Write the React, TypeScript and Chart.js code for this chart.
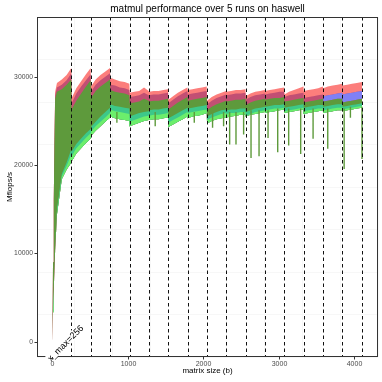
import React, { useEffect, useRef } from 'react';
import { Chart, registerables } from 'chart.js';

Chart.register(...registerables);

const chartTitle = 'matmul performance over 5 runs on haswell';
const xTitle = 'matrix size (b)';
const yTitle = 'Mflops/s';

const xTickValues = [0, 1000, 2000, 3000, 4000];
const xTickLabels = ['0', '1000', '2000', '3000', '4000'];
const yTickValues = [0, 10000, 20000, 30000];
const yTickLabels = ['0', '10000', '20000', '30000'];

// sample positions (matrix size)
const xs = [
  2, 12, 22, 30, 40, 64, 128, 192, 254,
  258, 320, 384, 448, 510,
  514, 576, 640, 704, 766,
  770, 832, 896, 960, 1022,
  1026, 1088, 1152, 1216, 1278,
  1282, 1344, 1408, 1472, 1534,
  1538, 1600, 1664, 1728, 1790,
  1794, 1856, 1920, 1984, 2046,
  2050, 2112, 2176, 2240, 2302,
  2306, 2368, 2432, 2496, 2558,
  2562, 2624, 2688, 2752, 2814,
  2818, 2880, 2944, 3008, 3070,
  3074, 3136, 3200, 3264, 3326,
  3330, 3392, 3456, 3520, 3582,
  3586, 3648, 3712, 3776, 3838,
  3842, 3904, 3968, 4032, 4100,
];

// upper edge of all runs (red run maximum)
const redTop = [
  300, 9000, 16000, 22000, 28300, 29300, 29700, 30200, 31000,
  27600, 28700, 29500, 30300, 31000,
  28900, 29700, 30200, 30600, 31000,
  29900, 29700, 29500, 29400, 29200,
  28200, 28300, 28400, 28800, 28400,
  28300, 28400, 28400, 28500, 28600,
  27400, 27800, 28200, 28500, 28800,
  28500, 28600, 28700, 28800, 28900,
  27300, 27700, 28000, 28200, 28400,
  28300, 28400, 28500, 28500, 28600,
  27800, 28100, 28300, 28400, 28500,
  28400, 28500, 28600, 28700, 28800,
  28000, 28300, 28500, 28700, 28900,
  28400, 28500, 28600, 28700, 28900,
  28700, 28900, 29000, 29100, 29200,
  29000, 29100, 29200, 29300, 29400,
];
// red / blue overlap upper edge
const midTop = [
  300, 9000, 16000, 22000, 27900, 28800, 29100, 29600, 30400,
  27000, 28100, 28900, 29600, 30300,
  28300, 29100, 29600, 30000, 30400,
  29100, 29000, 28800, 28700, 28500,
  27700, 27800, 27900, 28200, 27900,
  27900, 28000, 28000, 28100, 28200,
  27000, 27400, 27800, 28100, 28400,
  28000, 28100, 28200, 28300, 28400,
  26900, 27300, 27600, 27800, 28000,
  27900, 28000, 28100, 28100, 28200,
  27400, 27700, 27900, 28000, 28100,
  28000, 28100, 28200, 28300, 28300,
  27700, 27900, 28000, 28100, 28200,
  27600, 27700, 27800, 27900, 28000,
  27800, 27900, 28000, 28100, 28200,
  28000, 28100, 28200, 28300, 28400,
];
// green run maximum
const greenTop = [
  300, 9000, 16000, 22000, 27500, 28300, 28600, 29100, 29700,
  26300, 27300, 28100, 28900, 29600,
  27600, 28400, 28900, 29300, 29700,
  28500, 28300, 28200, 28100, 27900,
  27000, 27100, 27200, 27500, 27300,
  27200, 27300, 27300, 27400, 27500,
  26300, 26700, 27100, 27400, 27700,
  27300, 27400, 27500, 27600, 27700,
  26200, 26600, 26900, 27100, 27300,
  27200, 27300, 27400, 27400, 27500,
  26800, 27100, 27300, 27400, 27500,
  27400, 27500, 27600, 27600, 27700,
  27200, 27300, 27400, 27500, 27600,
  27100, 27200, 27300, 27400, 27500,
  27200, 27300, 27400, 27500, 27500,
  27100, 27200, 27300, 27400, 27500,
];
// red run minimum
const redBottom = [
  0, 3400, 6200, 8200, 10600, 15000, 19000, 20300, 21800,
  21500, 22400, 23000, 23600, 24100,
  24300, 24900, 25500, 26000, 26500,
  26900, 26700, 26600, 26500, 26400,
  25500, 25700, 25900, 26000, 26100,
  26200, 26300, 26300, 26400, 26500,
  25300, 25600, 25900, 26200, 26500,
  26400, 26500, 26600, 26700, 26800,
  25500, 25800, 26000, 26200, 26300,
  26200, 26300, 26300, 26400, 26400,
  26000, 26200, 26400, 26500, 26600,
  26600, 26700, 26800, 26800, 26900,
  26500, 26600, 26700, 26800, 26900,
  26500, 26600, 26700, 26800, 26800,
  26600, 26700, 26800, 26900, 26900,
  26600, 26700, 26800, 26900, 27000,
];
// blue run minimum
const blueBottom = [
  0, 3300, 6100, 8100, 10500, 14700, 18700, 19900, 21200,
  21000, 21900, 22500, 23100, 23600,
  23800, 24400, 24900, 25400, 25900,
  26300, 26100, 26000, 25900, 25800,
  24900, 25100, 25300, 25500, 25600,
  25600, 25700, 25700, 25800, 25900,
  24800, 25100, 25400, 25700, 26000,
  25900, 26000, 26100, 26200, 26300,
  25100, 25400, 25600, 25800, 25900,
  25800, 25900, 25900, 26000, 26000,
  25600, 25800, 26000, 26100, 26200,
  26200, 26300, 26400, 26400, 26500,
  26100, 26200, 26300, 26400, 26500,
  26100, 26200, 26300, 26400, 26400,
  26200, 26300, 26400, 26500, 26500,
  26300, 26400, 26500, 26600, 26700,
];
// lower edge of all runs (green run minimum)
const greenBottom = [
  0, 3200, 6000, 8000, 10400, 14400, 18400, 19500, 20300,
  20400, 21300, 21900, 22500, 23000,
  23300, 23900, 24400, 24900, 25400,
  25500, 25300, 25200, 25100, 25000,
  24400, 24600, 24800, 25000, 25100,
  25100, 25200, 25200, 25300, 25400,
  24300, 24600, 24900, 25200, 25500,
  25300, 25500, 25600, 25700, 25900,
  24700, 25000, 25200, 25300, 25400,
  25400, 25500, 25600, 25700, 25700,
  25500, 25700, 25800, 25900, 26000,
  25900, 26000, 26100, 26200, 26300,
  25900, 26000, 26100, 26200, 26300,
  25800, 25900, 26000, 26100, 26200,
  25900, 26000, 26100, 26200, 26200,
  26100, 26200, 26300, 26400, 26500,
];
// sizes from which the blue run is visible above the green run
const blueVisibleFrom = 3584;

// isolated performance drops
const dropX = [857, 1364, 1881, 2123, 2269, 2349, 2433, 2534, 2632, 2738, 2857, 2985, 3130, 3289, 3453, 3647, 3864, 3947, 4100];
const dropFrom = [26000, 26000, 26000, 26000, 26000, 26000, 26000, 26000, 26200, 26200, 26200, 26400, 26400, 26400, 26400, 26400, 26400, 26600, 26600];
const dropLow = [24790, 24400, 24790, 24220, 24400, 22330, 22330, 23460, 20810, 21000, 23080, 21450, 22210, 21270, 22970, 21840, 19570, 25360, 20700];

const breakpoints = [256, 512, 768, 1024, 1280, 1536, 1792, 2048, 2304, 2560, 2816, 3072, 3328, 3584, 3840, 4096];
const annotationLabel = 'x_max=256';
const annotationX = 175;
const annotationY = -150;

const xMin = -200;
const xMax = 4312;
const yMin = -1730;
const yMax = 36770;

const COLORS = {
  lightRed: '#FC7E7C',
  magenta: '#C24F73',
  olive: '#5E9A3C',
  teal: '#3DC88A',
  lightGreen: '#6CEE6C',
  blue: '#8080F5',
};

const FONT = '"Liberation Sans", Arial, Helvetica, sans-serif';

function toPoints(xv: number[], yv: number[]) {
  return xv.map((x, i) => ({ x, y: yv[i] }));
}

const decorPlugin = {
  id: 'panelDecor',
  afterDatasetsDraw(chart: any) {
    const { ctx, chartArea, scales } = chart;
    const sx = scales.x;
    ctx.save();
    ctx.beginPath();
    ctx.rect(chartArea.left, chartArea.top, chartArea.right - chartArea.left, chartArea.bottom - chartArea.top);
    ctx.clip();
    ctx.strokeStyle = '#111111';
    ctx.lineWidth = 1;
    ctx.setLineDash([3.5, 3]);
    for (const b of breakpoints) {
      const px = Math.round(sx.getPixelForValue(b)) + 0.5;
      ctx.beginPath();
      ctx.moveTo(px, chartArea.top);
      ctx.lineTo(px, chartArea.bottom);
      ctx.stroke();
    }
    ctx.restore();
  },
  afterDraw(chart: any) {
    const { ctx, chartArea, scales } = chart;
    const sx = scales.x;
    const sy = scales.y;

    // panel border
    ctx.save();
    ctx.strokeStyle = '#333333';
    ctx.lineWidth = 1;
    ctx.setLineDash([]);
    ctx.strokeRect(chartArea.left + 0.5, chartArea.top + 0.5, chartArea.right - chartArea.left - 1, chartArea.bottom - chartArea.top - 1);
    ctx.restore();

    // annotation
    ctx.save();
    const ax = sx.getPixelForValue(annotationX);
    const ay = sy.getPixelForValue(annotationY);
    ctx.translate(ax, ay);
    ctx.rotate(-Math.PI / 4);
    ctx.font = `9px ${FONT}`;
    const w = ctx.measureText(annotationLabel).width;
    ctx.fillStyle = '#FFFFFF';
    ctx.fillRect(-w / 2 - 1, -4.5, w + 2, 9);
    ctx.fillStyle = '#000000';
    ctx.textAlign = 'center';
    ctx.textBaseline = 'middle';
    ctx.fillText(annotationLabel, 0, 0.5);
    ctx.restore();

    // title
    ctx.save();
    ctx.fillStyle = '#000000';
    ctx.font = `10px ${FONT}`;
    ctx.textAlign = 'center';
    ctx.textBaseline = 'middle';
    ctx.fillText(chartTitle, (chartArea.left + chartArea.right) / 2, 9.5);
    ctx.restore();

    // tick marks and labels
    ctx.save();
    ctx.strokeStyle = '#333333';
    ctx.lineWidth = 1;
    ctx.fillStyle = '#4D4D4D';
    ctx.font = `6.8px ${FONT}`;
    ctx.textAlign = 'right';
    ctx.textBaseline = 'middle';
    yTickValues.forEach((v, i) => {
      const py = Math.round(sy.getPixelForValue(v)) + 0.5;
      ctx.beginPath();
      ctx.moveTo(chartArea.left - 2.5, py);
      ctx.lineTo(chartArea.left, py);
      ctx.stroke();
      ctx.fillText(yTickLabels[i], chartArea.left - 4, py);
    });
    ctx.textAlign = 'center';
    ctx.textBaseline = 'top';
    ctx.font = `7px ${FONT}`;
    xTickValues.forEach((v, i) => {
      const px = Math.round(sx.getPixelForValue(v)) + 0.5;
      ctx.beginPath();
      ctx.moveTo(px, chartArea.bottom);
      ctx.lineTo(px, chartArea.bottom + 2.5);
      ctx.stroke();
      ctx.fillText(xTickLabels[i], px, chartArea.bottom + 3.5);
    });
    ctx.restore();
  },
};

export default function App() {
  const canvasRef = useRef<HTMLCanvasElement | null>(null);

  useEffect(() => {
    document.body.style.margin = '0';
    const canvas = canvasRef.current;
    if (!canvas) return;
    Chart.defaults.font.family = FONT;

    const blueIdx = xs.findIndex((x) => x >= blueVisibleFrom);
    const blueX = xs.slice(blueIdx);

    const band = (ys: number[], color: string, target: number | false, order: number) => ({
      data: toPoints(xs, ys),
      borderColor: 'rgba(0,0,0,0)',
      borderWidth: 0,
      backgroundColor: color,
      fill: target,
      pointRadius: 0,
      tension: 0,
      order,
    });

    const dropData: any[] = [];
    dropX.forEach((x, i) => {
      dropData.push({ x, y: dropFrom[i] });
      dropData.push({ x, y: dropLow[i] });
      dropData.push({ x, y: null });
    });

    const chart = new Chart(canvas, {
      type: 'line',
      data: {
        datasets: [
          band(redTop, COLORS.lightRed, 5, 10),
          band(midTop, COLORS.magenta, 5, 9),
          band(greenTop, COLORS.olive, 5, 8),
          band(redBottom, COLORS.teal, 5, 7),
          band(blueBottom, COLORS.lightGreen, 5, 6),
          band(greenBottom, 'rgba(0,0,0,0)', false, 5),
          {
            data: toPoints(blueX, midTop.slice(blueIdx)),
            borderColor: 'rgba(0,0,0,0)',
            borderWidth: 0,
            backgroundColor: COLORS.blue,
            fill: 7,
            pointRadius: 0,
            tension: 0,
            order: 8.5,
          },
          {
            data: toPoints(blueX, greenTop.slice(blueIdx)),
            borderColor: 'rgba(0,0,0,0)',
            borderWidth: 0,
            backgroundColor: 'rgba(0,0,0,0)',
            fill: false,
            pointRadius: 0,
            tension: 0,
            order: 8.6,
          },
          {
            data: dropData,
            borderColor: COLORS.olive,
            borderWidth: 1.4,
            backgroundColor: COLORS.olive,
            fill: false,
            pointRadius: 0,
            spanGaps: false,
            tension: 0,
            order: 0,
          },
        ] as any,
      },
      options: {
        animation: false,
        responsive: false,
        devicePixelRatio: 1,
        events: [],
        layout: { padding: { left: 0, right: 4, top: 17, bottom: 0 }, autoPadding: false } as any,
        plugins: {
          legend: { display: false },
          tooltip: { enabled: false },
          title: { display: false },
        },
        scales: {
          x: {
            type: 'linear',
            min: xMin,
            max: xMax,
            afterFit: (s: any) => { s.height = 25; },
            border: { display: false },
            grid: {
              color: (c: any) => (c.tick && c.tick.value % 1000 === 0 ? '#EBEBEB' : '#F2F2F2'),
              lineWidth: (c: any) => (c.tick && c.tick.value % 1000 === 0 ? 1 : 0.6),
              drawTicks: false,
            },
            ticks: {
              stepSize: 500,
              includeBounds: false,
              autoSkip: false,
              display: false,
            },
            title: {
              display: true,
              text: xTitle,
              color: '#000000',
              font: { size: 8, family: FONT, lineHeight: 1.2 },
              padding: { top: 0, bottom: 6 },
            },
          },
          y: {
            type: 'linear',
            min: yMin,
            max: yMax,
            afterFit: (s: any) => { s.width = 37; },
            border: { display: false },
            grid: {
              color: (c: any) => (c.tick && c.tick.value % 10000 === 0 ? '#EBEBEB' : '#F2F2F2'),
              lineWidth: (c: any) => (c.tick && c.tick.value % 10000 === 0 ? 1 : 0.6),
              drawTicks: false,
            },
            ticks: {
              stepSize: 5000,
              includeBounds: false,
              autoSkip: false,
              display: false,
            },
            title: {
              display: true,
              text: yTitle,
              color: '#000000',
              font: { size: 8, family: FONT, lineHeight: 1.2 },
              padding: { top: 5, bottom: 0 },
            },
          },
        },
      } as any,
      plugins: [decorPlugin],
    });

    return () => chart.destroy();
  }, []);

  return (
    <div style={{ width: 382, height: 382 }}>
      <canvas ref={canvasRef} width={382} height={382} style={{ width: 382, height: 382, display: 'block' }} />
    </div>
  );
}
